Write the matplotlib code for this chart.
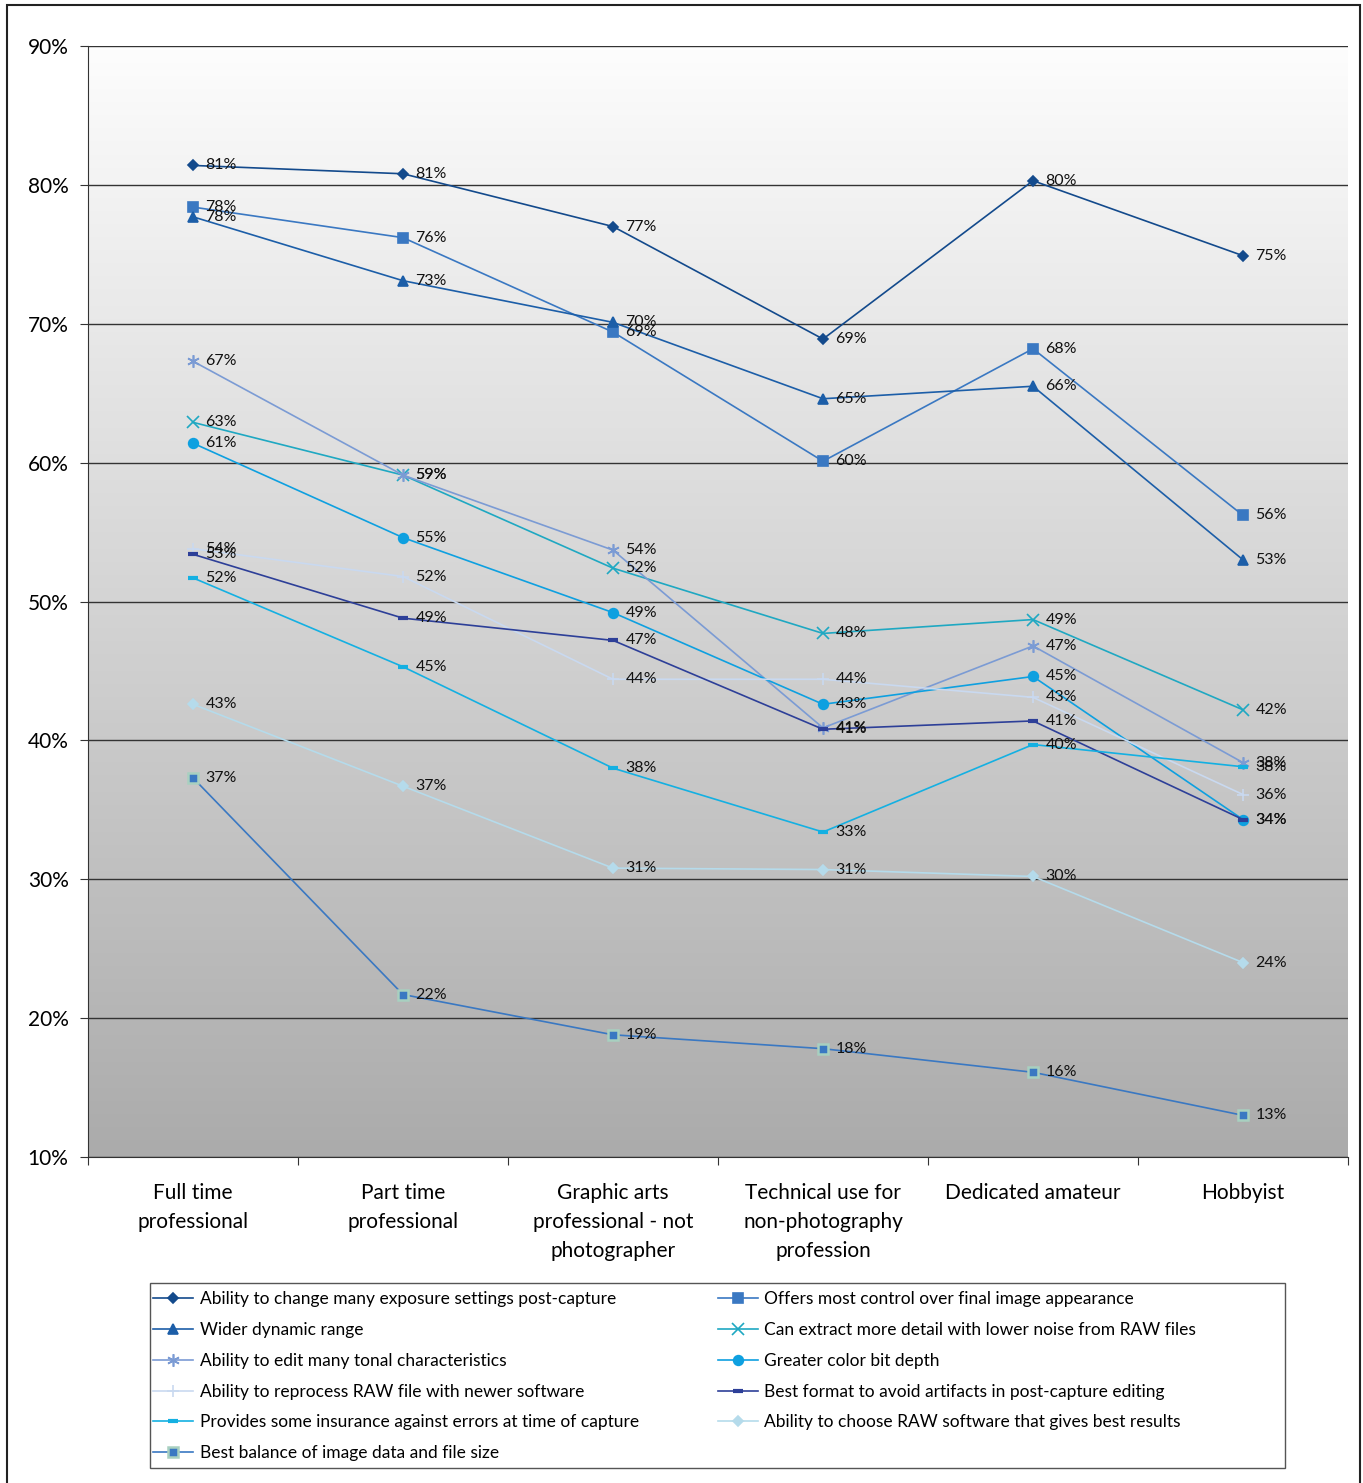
import numpy as np
import matplotlib
matplotlib.use("Agg")
import matplotlib.pyplot as plt
from matplotlib.patches import Rectangle
from matplotlib.colors import LinearSegmentedColormap

plt.rcParams['font.family'] = ['Lato', 'DejaVu Sans']

categories = ['Full time\nprofessional', 'Part time\nprofessional',
              'Graphic arts\nprofessional - not\nphotographer',
              'Technical use for\nnon-photography\nprofession',
              'Dedicated amateur', 'Hobbyist']

exposure = [81.4, 80.8, 77.0, 68.9, 80.3, 74.9]
control = [78.4, 76.2, 69.4, 60.1, 68.2, 56.2]
dynamic = [77.7, 73.1, 70.1, 64.6, 65.5, 53.0]
detail = [62.9, 59.1, 52.4, 47.7, 48.7, 42.2]
tonal = [67.3, 59.1, 53.7, 40.9, 46.8, 38.4]
bitdepth = [61.4, 54.6, 49.2, 42.6, 44.6, 34.3]
reprocess = [53.8, 51.8, 44.4, 44.4, 43.1, 36.1]
artifacts = [53.4, 48.8, 47.2, 40.8, 41.4, 34.3]
insurance = [51.7, 45.3, 38.0, 33.4, 39.7, 38.1]
choose_sw = [42.6, 36.7, 30.8, 30.7, 30.2, 24.0]
balance = [37.3, 21.7, 18.8, 17.8, 16.1, 13.0]

# (label, values, color, marker, markerfacecolor, markeredgecolor)
series = [
    ('Ability to change many exposure settings post-capture', exposure, '#134a8c', 'D', '#134a8c', '#134a8c'),
    ('Offers most control over final image appearance', control, '#3a78c2', 's', '#3a78c2', '#3a78c2'),
    ('Wider dynamic range', dynamic, '#1c5ea8', '^', '#1c5ea8', '#1c5ea8'),
    ('Can extract more detail with lower noise from RAW files', detail, '#1fa8c2', 'x', '#1fa8c2', '#1fa8c2'),
    ('Ability to edit many tonal characteristics', tonal, '#7b9bd4', (6, 2, 0), '#7b9bd4', '#7b9bd4'),
    ('Greater color bit depth', bitdepth, '#0ea0e0', 'o', '#0ea0e0', '#0ea0e0'),
    ('Ability to reprocess RAW file with newer software', reprocess, '#c9d9f0', '+', '#c9d9f0', '#c9d9f0'),
    ('Best format to avoid artifacts in post-capture editing', artifacts, '#2d3f98', '_', '#2d3f98', '#2d3f98'),
    ('Provides some insurance against errors at time of capture', insurance, '#14b0e2', '_', '#14b0e2', '#14b0e2'),
    ('Ability to choose RAW software that gives best results', choose_sw, '#b5dbeb', 'D', '#b5dbeb', '#b5dbeb'),
    ('Best balance of image data and file size', balance, '#3a78c2', 's', '#3a78c2', '#a8d0c0'),
]

W, H = 1363, 1483
fig = plt.figure(figsize=(W / 100, H / 100), dpi=100)
ax = fig.add_axes([88 / W, 1 - 1157 / H, (1348 - 88) / W, (1157 - 46) / H])

# gradient background
grad = np.linspace(0, 1, 256).reshape(-1, 1)
cmap = LinearSegmentedColormap.from_list('bg', ['#ababab', '#fdfdfd'])
ax.imshow(grad, cmap=cmap, aspect='auto', extent=[0, 1, 0, 1],
          transform=ax.transAxes, origin='lower', zorder=0)

x = np.arange(len(categories))
handles = []
for label, vals, col, mk, mfc, mec in series:
    ms = 7
    mew = 1.2
    if mk == 'D':
        ms = 5.5
    if mk in ('x', '+'):
        ms = 8
    if mk == '_':
        ms = 7
        mew = 3
    if isinstance(mk, tuple):
        ms = 9
    if mec != mfc:
        ms = 7.5
        mew = 1.8
    h, = ax.plot(x, vals, color=col, lw=1.2, marker=mk, markersize=ms,
                 markerfacecolor=mfc, markeredgecolor=mec, markeredgewidth=mew,
                 label=label, zorder=3)
    handles.append(h)
    for xi, v in zip(x, vals):
        ax.annotate('%d%%' % int(round(v)), (xi, v), xytext=(9, 0),
                    textcoords='offset points', va='center', ha='left',
                    fontsize=11.5, color='#111111', zorder=4)

ax.set_xlim(-0.5, 5.5)
ax.set_ylim(10, 90)
ax.set_yticks(np.arange(10, 91, 10))
ax.set_yticklabels(['%d%%' % t for t in range(10, 91, 10)], fontsize=15)
ax.yaxis.grid(True, color='#333333', lw=1)
for gl in ax.get_ygridlines():
    gl.set_zorder(1)

ax.set_xticks(np.arange(-0.5, 5.6, 1))
ax.set_xticklabels([])
ax.set_xticks(x, minor=True)
ax.set_xticklabels(categories, minor=True, fontsize=15, linespacing=1.55, va='top')
ax.tick_params(axis='x', which='minor', length=0, pad=19)
ax.tick_params(axis='x', which='major', length=6, direction='out', color='#333333')
ax.tick_params(axis='y', length=6, direction='out', color='#333333', pad=8)

for side in ['top', 'right']:
    ax.spines[side].set_visible(False)
ax.spines['left'].set_color('#333333')
ax.spines['bottom'].set_color('#333333')

# legend: two columns, frame drawn separately
order = [0, 2, 4, 6, 8, 10, 1, 3, 5, 7, 9]
leg = fig.legend([handles[i] for i in order], [handles[i].get_label() for i in order],
                 ncol=2, loc='upper left',
                 bbox_to_anchor=(150 / W, 1 - 1288 / H),
                 fontsize=12.5, frameon=False, labelspacing=0.85,
                 handlelength=2.3, handletextpad=0.4, borderaxespad=0,
                 borderpad=0.2, columnspacing=4.5)

fig.add_artist(Rectangle((150 / W, 1 - 1468 / H), 1135 / W, 185 / H,
                         transform=fig.transFigure, fill=False,
                         edgecolor='#555555', lw=1))

fig.add_artist(Rectangle((7 / W, -0.01), (1360 - 7) / W, 1.01 - 5 / H,
                         transform=fig.transFigure, fill=False,
                         edgecolor='#222222', lw=1.5))

fig.savefig('out.png', dpi=100, facecolor='white')
